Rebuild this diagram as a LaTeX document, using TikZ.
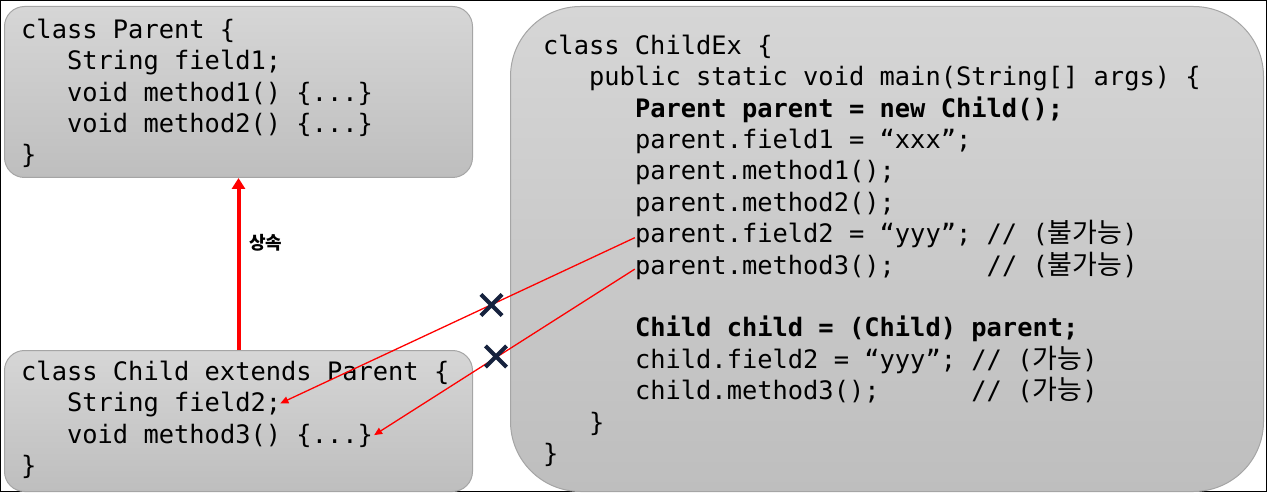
\documentclass[tikz,border=0pt]{standalone}
\usepackage{fontspec}
\newfontfamily\codefont{DejaVu Sans Mono}
\newfontfamily\krfont{Noto Sans CJK KR}
\usetikzlibrary{arrows.meta,shapes.misc}
\definecolor{boxtop}{RGB}{214,214,214}
\definecolor{boxbot}{RGB}{190,190,190}
\definecolor{boxline}{RGB}{165,165,165}
\definecolor{xnavy}{RGB}{22,34,62}
\newcommand{\kor}[1]{{\krfont\fontsize{27}{31.4}\selectfont #1}}
\begin{document}
\begin{tikzpicture}[x=1pt,y=-1pt,
  codebox/.style={draw=boxline, line width=1pt, top color=boxtop, bottom color=boxbot, anchor=north west, inner sep=0pt},
  codeline/.style={anchor=base west, inner sep=0pt, font=\codefont\fontsize{25.4}{31.4}\selectfont},
  inherit/.style={draw=red, line width=4pt, -{Triangle[length=11pt,width=13pt]}},
  access/.style={draw=red, line width=1.3pt, -{Triangle[length=8pt,width=7pt]}},
  xmark/.style={cross out, draw=xnavy, line width=4.2pt, minimum width=17pt, minimum height=17pt, inner sep=0pt},
  inhlabel/.style={font=\krfont\bfseries\fontsize{18}{20}\selectfont, inner sep=0pt}
]
\useasboundingbox (0,0) rectangle (1269,494);
\draw[line width=1pt] (0.5,0.5) rectangle (1266.5,491.5);

% boxes
\node[codebox, rounded corners=20pt, minimum width=468pt, minimum height=171pt] (parentbox) at (4,6) {};
\node[codebox, rounded corners=20pt, minimum width=468pt, minimum height=141pt] (childbox) at (4,350) {};
\node[codebox, rounded corners=70pt, minimum width=753pt, minimum height=485pt] (childexbox) at (510,6) {};

% Parent
\node[codeline] (p1) at (21,38.5) {class Parent \{};
\node[codeline] (p2) at (66.9,69.8) {String field1;};
\node[codeline] (p3) at (66.9,101.2) {void method1() \{...\}};
\node[codeline] (p4) at (66.9,132.6) {void method2() \{...\}};
\node[codeline] (p5) at (21,164) {\}};

% Child
\node[codeline] (c1) at (21,380.5) {class Child extends Parent \{};
\node[codeline] (cf2) at (66.9,411.8) {String field2;};
\node[codeline] (cm3) at (66.9,443.1) {void method3() \{...\}};
\node[codeline] (c4) at (21,474.4) {\}};

% ChildEx
\node[codeline] (ce1) at (543,54.3) {class ChildEx \{};
\node[codeline] (ce2) at (588.9,85.7) {public static void main(String[] args) \{};
\node[codeline] (ce3) at (634.8,117.1) {\bfseries Parent parent = new Child();};
\node[codeline] (ce4) at (634.8,148.5) {parent.field1 = “xxx”;};
\node[codeline] (ce5) at (634.8,179.9) {parent.method1();};
\node[codeline] (ce6) at (634.8,211.3) {parent.method2();};
\node[codeline] (pf2) at (634.8,242.7) {parent.field2 = “yyy”; // (\kor{불가능})};
\node[codeline] (pm3) at (634.8,274.1) {parent.method3();\ \ \ \ \ \ // (\kor{불가능})};
\node[codeline] (ce9) at (634.8,336.9) {\bfseries Child child = (Child) parent;};
\node[codeline] (ce10) at (634.8,368.3) {child.field2 = “yyy”; // (\kor{가능})};
\node[codeline] (ce11) at (634.8,399.7) {child.method3();\ \ \ \ \ \ // (\kor{가능})};
\node[codeline] (ce12) at (588.9,431.1) {\}};
\node[codeline] (ce13) at (543,462.5) {\}};

% inheritance
\draw[inherit] (childbox.north) -- (parentbox.south);
\node[inhlabel, anchor=west] (inh) at (249,243) {상속};

% access arrows
\draw[access] ([yshift=5pt]pf2.base west) -- ([xshift=-1pt,yshift=8.5pt]cf2.base east);
\draw[access] ([yshift=5pt]pm3.base west) -- ([xshift=1pt,yshift=8pt]cm3.base east);

% crosses
\node[xmark] (x1) at (491.5,305) {};
\node[xmark] (x2) at (496,356.5) {};
\end{tikzpicture}
\end{document}
